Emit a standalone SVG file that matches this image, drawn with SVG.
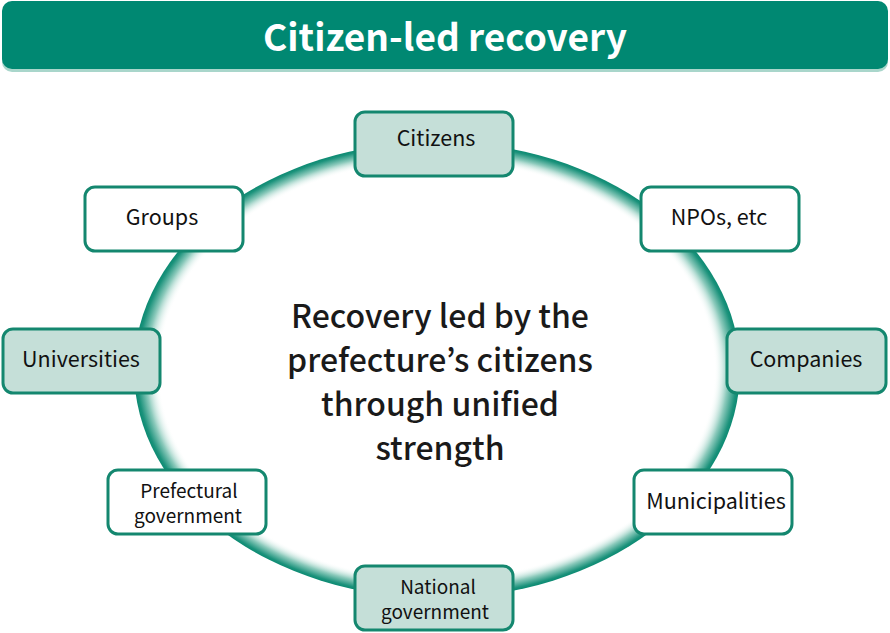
<svg xmlns="http://www.w3.org/2000/svg" width="890" height="633" viewBox="0 0 890 633">
<defs>
<radialGradient id="ring" cx="0.5" cy="0.5" r="0.5">
<stop offset="0.915" stop-color="#ffffff" stop-opacity="0"/>
<stop offset="0.96" stop-color="#8ecbbd"/>
<stop offset="0.99" stop-color="#1b927b"/>
<stop offset="1" stop-color="#0b8a72"/>
</radialGradient>
<style>
.hdr{font-family:"Noto Sans CJK JP","Noto Sans",sans-serif;font-weight:700;font-size:37px;fill:#ffffff;text-anchor:middle}
.lbl{font-family:"Noto Sans CJK JP","Noto Sans",sans-serif;font-weight:400;font-size:21.5px;fill:#111111;text-anchor:middle}
.two{font-size:19px}
.ctr{font-family:"Noto Sans CJK JP","Noto Sans",sans-serif;font-weight:500;font-size:32px;fill:#1a1a1a;text-anchor:middle}
.box{stroke:#14876f;stroke-width:3}
.f{fill:#c5dfd8}
.w{fill:#ffffff}
</style>
</defs>
<rect width="890" height="633" fill="#ffffff"/>
<g id="header">
<rect x="2" y="4" width="886" height="68" rx="10" fill="#a9d6cb"/>
<rect x="2" y="1" width="886" height="68" rx="10" fill="#008872"/>
<text class="hdr" x="445" y="51">Citizen-led recovery</text>
</g>
<g id="ring-group">
<ellipse cx="437" cy="370" rx="303" ry="228" fill="url(#ring)"/>
</g>
<g id="center">
<text class="ctr" x="440" y="328">Recovery led by the</text>
<text class="ctr" x="440" y="372">prefecture’s citizens</text>
<text class="ctr" x="440" y="416">through unified</text>
<text class="ctr" x="440" y="460">strength</text>
</g>
<g id="connectors"></g>
<g id="citizens">
<rect class="box f" x="355" y="112" width="158" height="64" rx="10"/>
<text class="lbl" x="436" y="146">Citizens</text>
</g>
<g id="groups">
<rect class="box w" x="85" y="187" width="158" height="64" rx="10"/>
<text class="lbl" x="162" y="225">Groups</text>
</g>
<g id="npos">
<rect class="box w" x="641" y="187" width="158" height="64" rx="10"/>
<text class="lbl" x="719" y="225">NPOs, etc</text>
</g>
<g id="universities">
<rect class="box f" x="3" y="329" width="157" height="64" rx="10"/>
<text class="lbl" x="81" y="367">Universities</text>
</g>
<g id="companies">
<rect class="box f" x="727" y="329" width="159" height="64" rx="10"/>
<text class="lbl" x="806" y="367">Companies</text>
</g>
<g id="prefectural">
<rect class="box w" x="108" y="470" width="158" height="64" rx="10"/>
<text class="lbl two" x="189" y="498">Prefectural</text>
<text class="lbl two" x="188" y="523">government</text>
</g>
<g id="municipalities">
<rect class="box w" x="634" y="470" width="158" height="64" rx="10"/>
<text class="lbl" x="716" y="509">Municipalities</text>
</g>
<g id="national">
<rect class="box f" x="355" y="566" width="158" height="64" rx="10"/>
<text class="lbl two" x="438" y="594">National</text>
<text class="lbl two" x="435" y="619">government</text>
</g>
</svg>
